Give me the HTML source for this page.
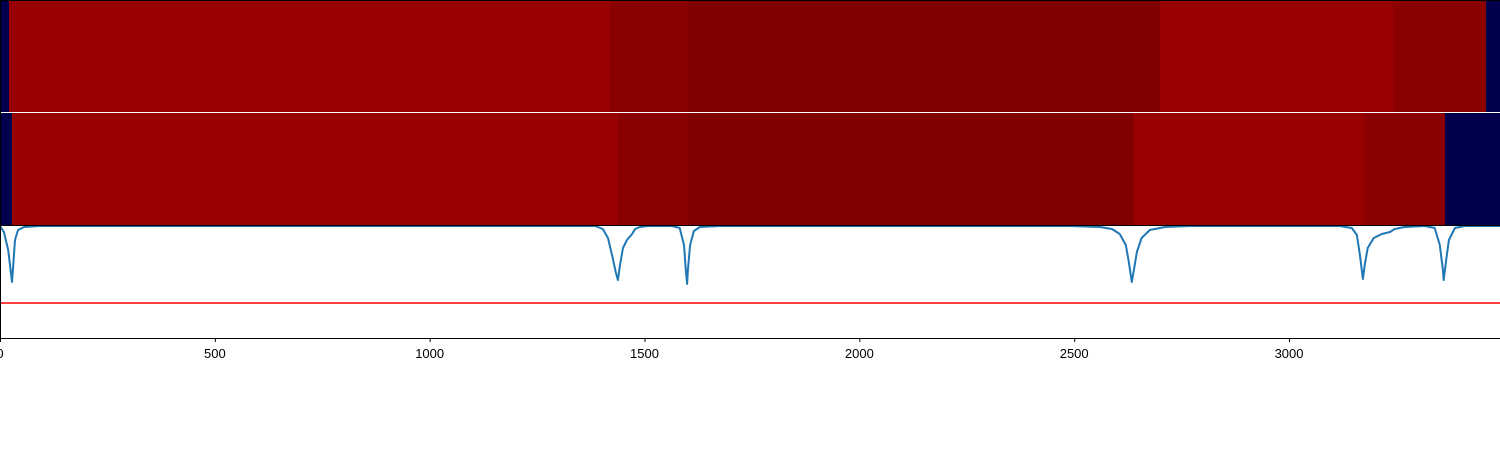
<!DOCTYPE html>
<html><head><meta charset="utf-8"><style>
body{margin:0;background:#fff;width:1500px;height:450px;overflow:hidden}
svg{display:block}
rect{shape-rendering:crispEdges}
text{font-family:"Liberation Sans",sans-serif;font-size:13px;fill:#000}
</style></head><body>
<svg id="chart" width="1500" height="450"></svg>
<script>
const xTicks=[0,500,1000,1500,2000,2500,3000];
const row1Bounds=[0,21,1420,1601,2700,3242,3458,3491];
const row1Values=[0,0.8,0.9,1.0,0.8,0.9,0];
const row2Bounds=[0,28,1438,1601,2637,3174,3363,3491];
const row2Values=[0,0.8,0.9,1.0,0.8,0.9,0];
const lineX=[0,9,19,26,28,30,35,42,56,93,
1385,1403,1415,1426,1433,1438,1443,1450,1459,1471,1478,1489,1508,
1564,1582,1592,1596,1599,1601,1606,1615,1629,1675,
2490,2560,2588,2606,2620,2627,2634,2639,2646,2657,2676,2711,2769,
3118,3146,3158,3165,3172,3176,3183,3197,3216,3235,3246,3269,
3316,3339,3351,3358,3360,3365,3372,3386,3409,3491];
const lineY=[0,-6,-24,-49,-56,-44,-14,-4,-1,0,
0,-3,-12,-32,-46,-54,-39,-22,-14,-8,-3,-1,0,
0,-2,-19,-44,-58,-44,-19,-5,-1,0,
0,-1,-3,-8,-19,-36,-56,-44,-26,-12,-4,-1,0,
0,-2,-9,-29,-53,-39,-22,-12,-8,-6,-3,-1,
0,-2,-19,-44,-54,-36,-14,-2,0,0];
const thresholdValue=[-77];

const NS='http://www.w3.org/2000/svg';
const svgEl=document.getElementById('chart');
const X0=0,X1=1500,xMax=3491;
const xs=v=>X0+(v/xMax)*(X1-X0);
const LT=226,LB=338;
const ys=v=>LT+(v/-112)*(LB-LT);
function colorOf(v){if(v<=0)return '#00004c';if(v<0.85)return '#990000';if(v<0.95)return '#8b0000';return '#7f0000';}
function mk(tag,attrs){const e=document.createElementNS(NS,tag);for(const k in attrs)e.setAttribute(k,attrs[k]);svgEl.appendChild(e);return e;}
function drawRow(bounds,vals,y0,h,name){
  for(let i=0;i<vals.length;i++){
    const x0=Math.round(xs(bounds[i])),x1=Math.round(xs(bounds[i+1]));
    const e=mk('rect',{x:x0,y:y0,width:x1-x0,height:h,fill:colorOf(vals[i])});
    
    
  }
}
drawRow(row1Bounds,row1Values,0,112,'heatmap-top');
drawRow(row2Bounds,row2Values,113,113,'heatmap-bottom');
let pathD='';
for(let i=0;i<lineX.length;i++)pathD+=(i?'L':'M')+xs(lineX[i]).toFixed(1)+','+ys(lineY[i]).toFixed(1);
const sigPath=mk('path',{d:pathD,fill:'none',stroke:'#1f77b4','stroke-width':2,'stroke-linejoin':'round'});


const thrLine=mk('line',{x1:X0,x2:X1,y1:ys(thresholdValue[0]),y2:ys(thresholdValue[0]),stroke:'#ff0000','stroke-width':1.5});


const topSpine=mk('line',{x1:0,x2:1500,y1:0.5,y2:0.5,stroke:'#000','stroke-width':1});


const leftSpine=mk('line',{x1:0.5,x2:0.5,y1:0,y2:338,stroke:'#000','stroke-width':1});


const sepLine=mk('line',{x1:0,x2:1500,y1:225.5,y2:225.5,stroke:'#000','stroke-width':1});


const bottomSpine=mk('line',{x1:0,x2:1500,y1:338.5,y2:338.5,stroke:'#000','stroke-width':1});


xTicks.forEach(t=>{
  const tk=mk('line',{x1:xs(t)+0.5,x2:xs(t)+0.5,y1:338,y2:342,stroke:'#000','stroke-width':1});
  
  
  const tx=mk('text',{x:xs(t),y:358,'text-anchor':'middle'});
  tx.textContent=t;
  
  
});
</script>
</body></html>
